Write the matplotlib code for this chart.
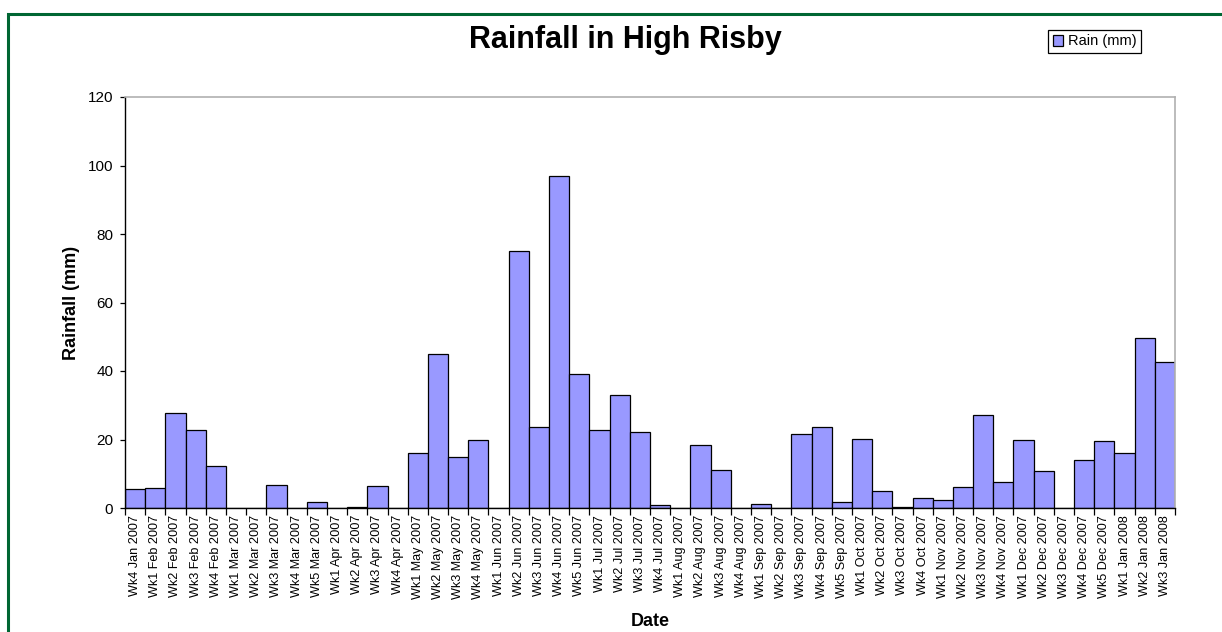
import matplotlib
matplotlib.use("Agg")
import matplotlib.pyplot as plt
from matplotlib.patches import Rectangle
import numpy as np

plt.rcParams["font.family"] = ["Liberation Sans", "DejaVu Sans"]

weeks = [
    "Wk4 Jan 2007", "Wk1 Feb 2007", "Wk2 Feb 2007", "Wk3 Feb 2007", "Wk4 Feb 2007",
    "Wk1 Mar 2007", "Wk2 Mar 2007", "Wk3 Mar 2007", "Wk4 Mar 2007", "Wk5 Mar 2007",
    "Wk1 Apr 2007", "Wk2 Apr 2007", "Wk3 Apr 2007", "Wk4 Apr 2007",
    "Wk1 May 2007", "Wk2 May 2007", "Wk3 May 2007", "Wk4 May 2007",
    "Wk1 Jun 2007", "Wk2 Jun 2007", "Wk3 Jun 2007", "Wk4 Jun 2007", "Wk5 Jun 2007",
    "Wk1 Jul 2007", "Wk2 Jul 2007", "Wk3 Jul 2007", "Wk4 Jul 2007",
    "Wk1 Aug 2007", "Wk2 Aug 2007", "Wk3 Aug 2007", "Wk4 Aug 2007",
    "Wk1 Sep 2007", "Wk2 Sep 2007", "Wk3 Sep 2007", "Wk4 Sep 2007", "Wk5 Sep 2007",
    "Wk1 Oct 2007", "Wk2 Oct 2007", "Wk3 Oct 2007", "Wk4 Oct 2007",
    "Wk1 Nov 2007", "Wk2 Nov 2007", "Wk3 Nov 2007", "Wk4 Nov 2007",
    "Wk1 Dec 2007", "Wk2 Dec 2007", "Wk3 Dec 2007", "Wk4 Dec 2007", "Wk5 Dec 2007",
    "Wk1 Jan 2008", "Wk2 Jan 2008", "Wk3 Jan 2008",
]
rain_mm = [
    5.5, 5.8, 27.7, 22.8, 12.3,
    0.0, 0.0, 6.7, 0.0, 1.8,
    0.0, 0.3, 6.4, 0.0,
    16.0, 45.0, 15.0, 19.9,
    0.0, 75.0, 23.7, 97.0, 39.1,
    22.8, 33.0, 22.2, 0.9,
    0.0, 18.4, 11.1, 0.0,
    1.2, 0.0, 21.6, 23.7, 1.8,
    20.1, 5.0, 0.4, 2.9,
    2.3, 6.1, 27.2, 7.6,
    19.9, 10.8, 0.0, 14.0, 19.6,
    16.1, 49.6, 42.6,
]
y_ticks = [0, 20, 40, 60, 80, 100, 120]

W, H = 1222, 632
fig = plt.figure(figsize=(W / 100, H / 100), dpi=100)
fig.patch.set_facecolor("white")

# green chart frame (runs off the right and bottom edge)
fig.add_artist(Rectangle((8 / W, -0.1), 1.2, 1 - 14 / H + 0.1,
                         transform=fig.transFigure, fill=False,
                         edgecolor="#006633", linewidth=2.2, clip_on=False))

ax = fig.add_axes([125 / W, 1 - 508 / H, 1050 / W, 411 / H])
x = np.arange(len(weeks))
ax.bar(x, rain_mm, width=1.0, color="#9999FF", edgecolor="black",
       linewidth=0.9, label="Rain (mm)", zorder=2)

ax.set_xlim(-0.5, len(weeks) - 0.5)
ax.set_ylim(0, 120)
ax.set_yticks(y_ticks)
ax.tick_params(axis="y", labelsize=11, length=3.5, width=0.9, direction="out", pad=5)

ax.set_xticks(x)
ax.set_xticklabels(weeks, rotation=90, fontsize=9.1)
ax.set_xticks(np.arange(-0.5, len(weeks), 1.0), minor=True)
ax.tick_params(axis="x", which="major", length=0, pad=5)
ax.tick_params(axis="x", which="minor", length=5, width=0.9, direction="out")

for side in ("top", "right"):
    ax.spines[side].set_color("#b0b0b0")
    ax.spines[side].set_linewidth(1.2)
for side in ("left", "bottom"):
    ax.spines[side].set_color("black")
    ax.spines[side].set_linewidth(1.0)

ax.set_ylabel("Rainfall (mm)", fontsize=13, fontweight="bold")
ax.yaxis.set_label_coords(-0.043, 0.5)
ax.set_xlabel("Date", fontsize=13, fontweight="bold")
ax.xaxis.set_label_coords(0.5, -0.2555)

fig.text(625 / W, 1 - 40 / H, "Rainfall in High Risby", fontsize=22,
         fontweight="bold", ha="center", va="center")

leg = ax.legend(loc="center", bbox_to_anchor=(1094.5 / W, 1 - 41.5 / H),
                bbox_transform=fig.transFigure, fontsize=10.5, frameon=True,
                fancybox=False, framealpha=1, edgecolor="black",
                handlelength=0.75, handleheight=0.75, handletextpad=0.3,
                borderpad=0.3, borderaxespad=0)
leg.get_frame().set_linewidth(0.9)

fig.savefig("out.png", dpi=100)
